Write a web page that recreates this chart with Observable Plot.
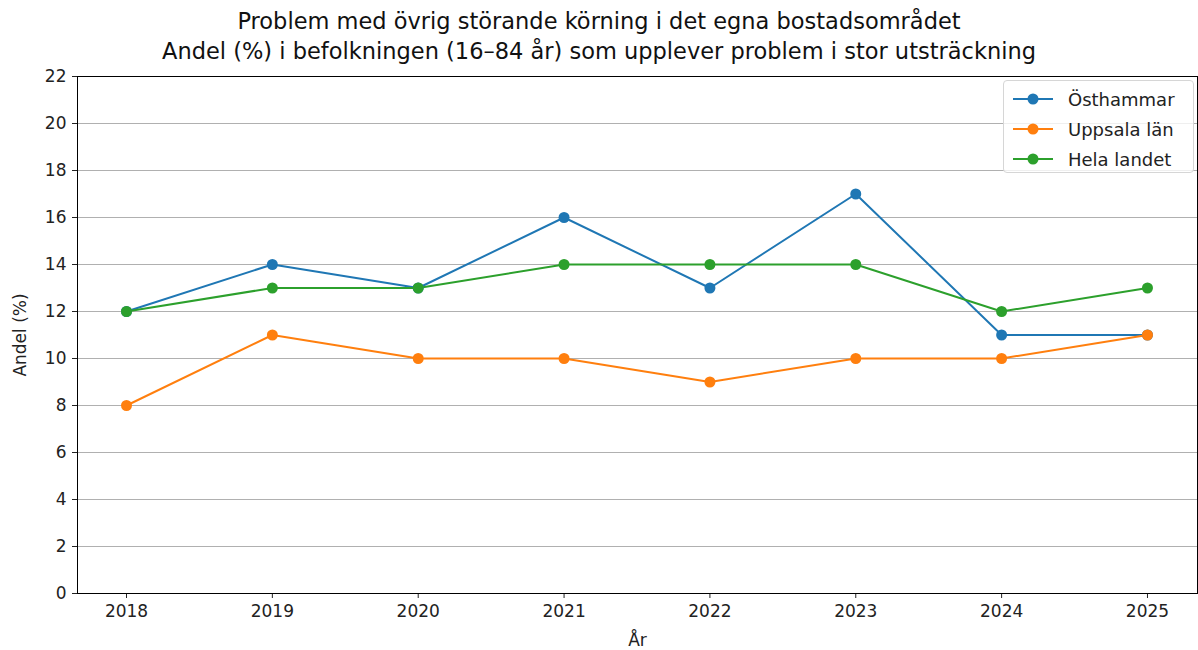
<!DOCTYPE html>
<html><head><meta charset="utf-8">
<script src="https://cdn.jsdelivr.net/npm/d3@7"></script>
<script src="https://cdn.jsdelivr.net/npm/@observablehq/plot@0.6"></script>
<style>
body{margin:0;background:#fff;font-family:"DejaVu Sans",sans-serif;}
#wrap{position:relative;width:1198px;height:650px;}
#title{height:64px;text-align:center;font-size:22.5px;line-height:30px;padding-top:6px;box-sizing:border-box;color:#111;overflow:visible;}
#legend{position:absolute;left:1003px;top:80px;width:191px;height:93px;border:1px solid #d6d6d6;border-radius:4px;background:rgba(255,255,255,0.8);box-sizing:border-box;font-size:18px;}
.item{position:absolute;left:8px;height:20px;display:flex;align-items:center;}
.item span{margin-left:14px;color:#222;}
</style></head>
<body><div id="wrap">
<div id="title">Problem med övrig störande körning i det egna bostadsområdet<br>Andel (%) i befolkningen (16–84 år) som upplever problem i stor utsträckning</div>
<div id="chart"></div>
<div id="legend"></div>
</div>
<script>
const years = [2018, 2019, 2020, 2021, 2022, 2023, 2024, 2025];
const seriesNames = ["Östhammar", "Uppsala län", "Hela landet"];
const osthammar = [12, 14, 13, 16, 13, 17, 11, 11];
const uppsala = [8, 11, 10, 10, 9, 10, 10, 11];
const helaLandet = [12, 13, 13, 14, 14, 14, 12, 13];
const colors = ["#1f77b4", "#ff7f0e", "#2ca02c"];
const yTicks = [0, 2, 4, 6, 8, 10, 12, 14, 16, 18, 20, 22];

const values = [osthammar, uppsala, helaLandet];
const data = [];
seriesNames.forEach((s, i) => years.forEach((y, j) => data.push({series: s, year: y, value: values[i][j]})));

const plot = Plot.plot({
  width: 1198,
  height: 586,
  marginTop: 12,
  marginLeft: 77,
  marginRight: 1,
  marginBottom: 57,
  style: {fontFamily: "DejaVu Sans, sans-serif", fontSize: "17px", color: "#222", background: "#fff", overflow: "visible"},
  x: {domain: [2017.664, 2025.343], ticks: years, tickFormat: d => String(d), tickSize: 5, tickPadding: 6, label: "År", labelAnchor: "center", labelOffset: 52, labelArrow: "none"},
  y: {domain: [0, 22], ticks: yTicks, tickSize: 5, tickPadding: 6, label: "Andel (%)", labelAnchor: "center", labelOffset: 64, labelArrow: "none"},
  color: {domain: seriesNames, range: colors},
  marks: [
    Plot.gridY(yTicks, {stroke: "#b0b0b0", strokeOpacity: 1, strokeWidth: 1}),
    Plot.line(data, {x: "year", y: "value", z: "series", stroke: "series", strokeWidth: 2}),
    Plot.dot(data, {x: "year", y: "value", fill: "series", r: 5.5}),
    Plot.frame({stroke: "#000", strokeWidth: 1})
  ]
});
document.getElementById("chart").appendChild(plot);

const leg = document.getElementById("legend");
seriesNames.forEach((s, i) => {
  const d = document.createElement("div");
  d.className = "item";
  d.style.top = (8 + i * 30) + "px";
  d.innerHTML = `<svg width="42" height="14"><line x1="1" y1="7" x2="41" y2="7" stroke="${colors[i]}" stroke-width="2"/><circle cx="21" cy="7" r="5.5" fill="${colors[i]}"/></svg><span>${s}</span>`;
  leg.appendChild(d);
});
</script>
</body></html>
